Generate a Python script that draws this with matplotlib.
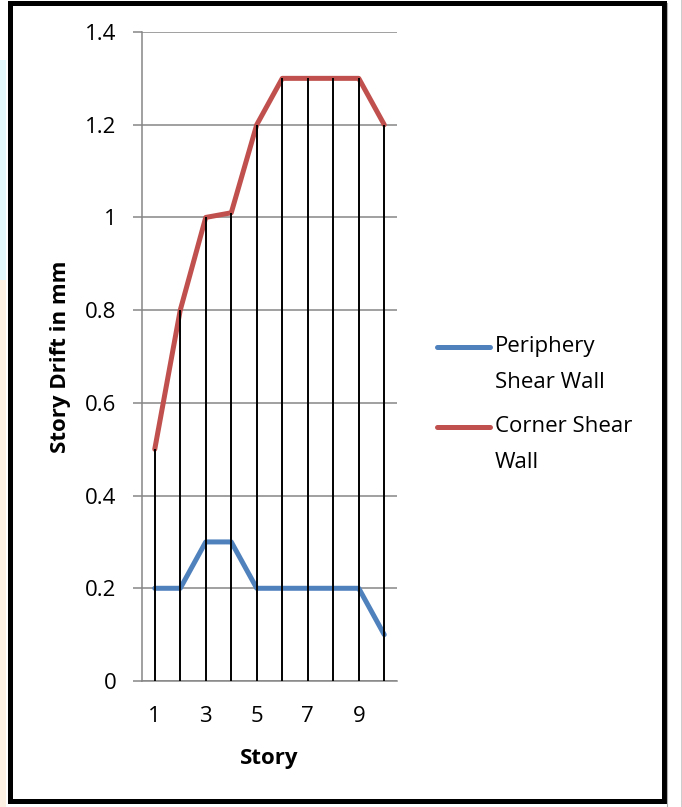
import numpy as np
import matplotlib.pyplot as plt
from matplotlib.patches import Rectangle
from matplotlib.lines import Line2D

# story drift for each story, two shear wall layouts
stories = np.arange(1, 11)
periphery = [0.2, 0.2, 0.3, 0.3, 0.2, 0.2, 0.2, 0.2, 0.2, 0.1]
corner = [0.5, 0.8, 1.0, 1.01, 1.2, 1.3, 1.3, 1.3, 1.3, 1.2]
series_names = ['Periphery\nShear Wall', 'Corner Shear\nWall']
series_colors = ['#4F81BD', '#C0504D']
x_ticks = [1, 3, 5, 7, 9]
y_ticks = [0, 0.2, 0.4, 0.6, 0.8, 1.0, 1.2, 1.4]

plt.rcParams['font.family'] = ['Open Sans', 'DejaVu Sans']
W, H = 682, 807
fig = plt.figure(figsize=(W / 100, H / 100), dpi=100)

def fx(px):
    return px / W

def fy(py):
    return 1 - py / H

ax = fig.add_axes([fx(142), fy(681), fx(397) - fx(142), fy(32) - fy(681)])

grid_col = '#868686'
ax.plot(stories, periphery, color=series_colors[0], lw=3.6, solid_capstyle='round',
        solid_joinstyle='round', zorder=3)
ax.plot(stories, corner, color=series_colors[1], lw=3.6, solid_capstyle='round',
        solid_joinstyle='round', zorder=3)
# drop lines from the highest series down to the axis
ax.vlines(stories, 0, np.maximum(periphery, corner), color='black', lw=1.4, zorder=4)

ax.set_xlim(0.5, 10.5)
ax.set_ylim(0, 1.4)
ax.set_xticks(x_ticks)
ax.set_yticks(y_ticks)
ax.set_yticklabels([f'{v:g}' for v in y_ticks])
ax.yaxis.grid(True, color=grid_col, lw=1.1, zorder=0)
ax.set_axisbelow(True)
for s in ['top', 'right']:
    ax.spines[s].set_visible(False)
ax.spines['left'].set_color(grid_col)
ax.spines['bottom'].set_color(grid_col)
ax.spines['left'].set_linewidth(1.1)
ax.spines['bottom'].set_linewidth(1.1)
ax.tick_params(axis='y', length=6.5, width=1.1, color=grid_col, pad=12, labelsize=16)
ax.tick_params(axis='x', length=0, pad=18, labelsize=16)
ax.set_xlabel('Story', fontsize=16, fontweight='bold', labelpad=15)
ax.set_ylabel('Story Drift in mm', fontsize=16, fontweight='bold', labelpad=10)

# legend drawn beside the plot
for i, (name, col) in enumerate(zip(series_names, series_colors)):
    yl = 347 + i * 80
    fig.add_artist(Line2D([fx(437), fx(490)], [fy(yl), fy(yl)], color=col, lw=3.6,
                          solid_capstyle='round', transform=fig.transFigure))
    fig.text(fx(495), fy(yl - 11), name, fontsize=16, va='top', ha='left', linespacing=1.92)

# frame round the chart
fig.add_artist(Rectangle((fx(9.5), fy(800.5)), fx(663.5) - fx(9.5), fy(2.5) - fy(800.5),
                         fill=False, ec='black', lw=3.6, transform=fig.transFigure))
fig.add_artist(Line2D([fx(667), fx(667)], [0, fy(3)], color='#b0b0b0', lw=0.8,
                      transform=fig.transFigure))
fig.add_artist(Line2D([fx(681.5), fx(681.5)], [0, 1], color='black', lw=1,
                      transform=fig.transFigure))
fig.add_artist(Rectangle((0, fy(280)), fx(6), fy(60) - fy(280), color='#e2f8fa', lw=0,
                         transform=fig.transFigure))
fig.add_artist(Rectangle((0, 0), fx(6), fy(280), color='#fdf1e3', lw=0,
                         transform=fig.transFigure))

fig.savefig('out.png', dpi=100)
